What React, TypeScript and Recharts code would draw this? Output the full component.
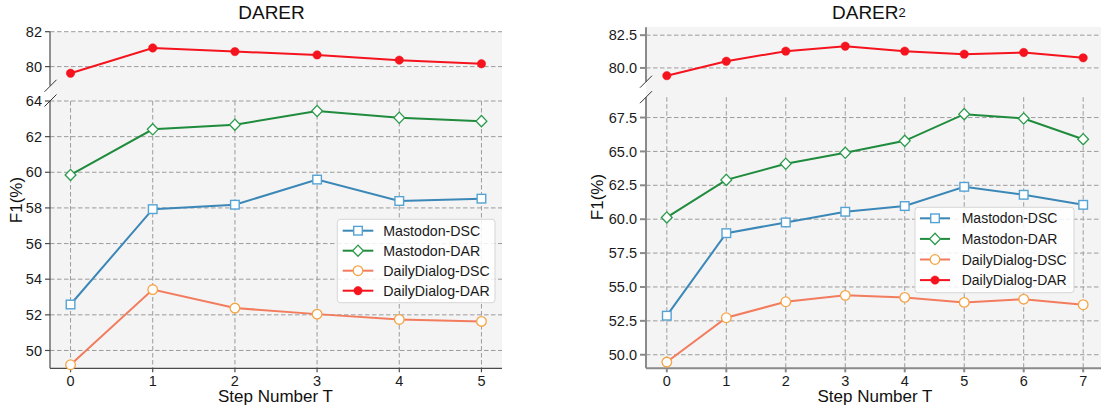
import React from "react";
import { LineChart, Line, XAxis, YAxis, CartesianGrid } from "recharts";

// DARER (left panel)
const darerSteps = [0, 1, 2, 3, 4, 5];
const darerMastodonDSC = [52.58, 57.93, 58.18, 59.59, 58.39, 58.52];
const darerMastodonDAR = [59.85, 62.41, 62.67, 63.44, 63.06, 62.87];
const darerDailyDSC = [49.2, 53.42, 52.38, 52.04, 51.74, 51.63];
const darerDailyDAR = [79.62, 81.07, 80.86, 80.67, 80.37, 80.16];
const darerTopTicks = [80, 82];
const darerBottomTicks = [50, 52, 54, 56, 58, 60, 62, 64];

// DARER2 (right panel)
const darer2Steps = [0, 1, 2, 3, 4, 5, 6, 7];
const darer2MastodonDSC = [52.88, 58.97, 59.76, 60.55, 60.97, 62.39, 61.8, 61.06];
const darer2MastodonDAR = [60.13, 62.9, 64.09, 64.9, 65.78, 67.75, 67.43, 65.9];
const darer2DailyDSC = [49.46, 52.73, 53.91, 54.38, 54.23, 53.86, 54.1, 53.69];
const darer2DailyDAR = [79.41, 80.51, 81.28, 81.66, 81.28, 81.05, 81.18, 80.77];
const darer2TopTicks = [80, 82.5];
const darer2BottomTicks = [50, 52.5, 55, 57.5, 60, 62.5, 65, 67.5];

const seriesNames = ["Mastodon-DSC", "Mastodon-DAR", "DailyDialog-DSC", "DailyDialog-DAR"];

const FONT = '"Liberation Sans", Arial, Helvetica, sans-serif';

const series = [
  { key: "mdsc", name: seriesNames[0], line: "#3b87b7", edge: "#55a3d4", fill: "#fff", shape: "square" },
  { key: "mdar", name: seriesNames[1], line: "#1f8b3c", edge: "#2b9a4b", fill: "#fff", shape: "diamond" },
  { key: "ddsc", name: seriesNames[2], line: "#f27c5d", edge: "#f5a445", fill: "#fff", shape: "circle" },
  { key: "ddar", name: seriesNames[3], line: "#f5131d", edge: "#f5131d", fill: "#f5131d", shape: "dot" },
];

const buildRows = (steps: number[], a: number[], b: number[], c: number[], d: number[]) =>
  steps.map((t, i) => ({ t, mdsc: a[i], mdar: b[i], ddsc: c[i], ddar: d[i] }));

const darerRows = buildRows(darerSteps, darerMastodonDSC, darerMastodonDAR, darerDailyDSC, darerDailyDAR);
const darer2Rows = buildRows(darer2Steps, darer2MastodonDSC, darer2MastodonDAR, darer2DailyDSC, darer2DailyDAR);

function marker(s: any, cx: number, cy: number, key: string) {
  if (cx == null || cy == null) return <g key={key} />;
  if (s.shape === "square")
    return <rect key={key} x={cx - 4.3} y={cy - 4.3} width={8.6} height={8.6} fill={s.fill} stroke={s.edge} strokeWidth={1.4} />;
  if (s.shape === "diamond")
    return (
      <polygon
        key={key}
        points={`${cx},${cy - 5.6} ${cx + 5.4},${cy} ${cx},${cy + 5.6} ${cx - 5.4},${cy}`}
        fill={s.fill}
        stroke={s.edge}
        strokeWidth={1.3}
      />
    );
  if (s.shape === "circle")
    return <circle key={key} cx={cx} cy={cy} r={4.8} fill={s.fill} stroke={s.edge} strokeWidth={1.3} />;
  return <circle key={key} cx={cx} cy={cy} r={4.2} fill={s.fill} stroke={s.edge} strokeWidth={0.5} />;
}

const H = 411;

function SubChart({ cfg, rows, keys, yDomain, yTicks, y0, y1, showX, fmt }: any) {
  const xh = showX ? 30 : 0;
  const axisStroke = { stroke: cfg.spine, strokeWidth: cfg.spineWidth };
  const tickText = { fill: "#1a1a1a", fontSize: 14.5, fontFamily: FONT };
  return (
    <div style={{ position: "absolute", left: 0, top: 0 }}>
      <LineChart
        width={cfg.chartWidth}
        height={H}
        data={rows}
        margin={{ top: y0, bottom: H - y1 - xh, left: 0, right: cfg.chartWidth - cfg.plotRight }}
      >
        <CartesianGrid stroke="#9c9c9c" strokeDasharray="4.5 2.5" strokeWidth={1} syncWithTicks={true} />
        <XAxis
          dataKey="t"
          type="number"
          domain={cfg.xDomain}
          ticks={cfg.xTicks}
          interval={0}
          height={xh}
          tick={showX ? tickText : false}
          tickLine={showX ? axisStroke : false}
          axisLine={showX ? axisStroke : false}
          tickSize={4}
          tickMargin={3}
        />
        <YAxis
          type="number"
          domain={yDomain}
          ticks={yTicks}
          interval={0}
          width={cfg.plotLeft}
          tick={tickText}
          tickFormatter={fmt}
          tickLine={axisStroke}
          axisLine={axisStroke}
          tickSize={cfg.tickSize}
          tickMargin={3}
        />
        {keys.map((s: any) => (
          <Line
            key={s.key}
            dataKey={s.key}
            stroke={s.line}
            strokeWidth={2}
            dot={(p: any) => marker(s, p.cx, p.cy, `${s.key}-${p.index}`)}
            activeDot={false}
            isAnimationActive={false}
          />
        ))}
      </LineChart>
    </div>
  );
}

function LegendBox({ lg }: any) {
  return (
    <g>
      <rect x={lg.x} y={lg.y} width={lg.w} height={lg.h} rx={3} fill="#ffffff" fillOpacity={0.85} stroke="#d6d6d6" strokeWidth={1} />
      {series.map((s, i) => {
        const cy = lg.rowY + i * lg.rowGap;
        return (
          <g key={s.key}>
            <line x1={lg.lineX0} x2={lg.lineX1} y1={cy} y2={cy} stroke={s.line} strokeWidth={2} />
            {marker(s, (lg.lineX0 + lg.lineX1) / 2, cy, `lg-${s.key}`)}
            <text x={lg.textX} y={cy + 5} fontSize={lg.fontSize} fontFamily={FONT} fill="#1a1a1a">
              {s.name}
            </text>
          </g>
        );
      })}
    </g>
  );
}

const leftCfg = {
  plotLeft: 50,
  plotRight: 502,
  chartWidth: 1101,
  xDomain: [-0.25, 5.25],
  xTicks: darerSteps,
  spine: "#4a4a4a",
  spineWidth: 1.2,
  tickSize: 5,
  top: { y0: 31.7, y1: 85.8, domain: [78.9, 82], ticks: darerTopTicks },
  bottom: { y0: 101, y1: 368.3, domain: [49, 64], ticks: darerBottomTicks },
};

const rightCfg = {
  plotLeft: 646,
  plotRight: 1104,
  chartWidth: 1112,
  xDomain: [-0.35, 7.35],
  xTicks: darer2Steps,
  spine: "#8a8a8a",
  spineWidth: 2,
  tickSize: 6,
  top: { y0: 27.3, y1: 81.7, domain: [78.95, 83.1], ticks: darer2TopTicks },
  bottom: { y0: 97.2, y1: 368.3, domain: [49, 69], ticks: darer2BottomTicks },
};

function Panel({ cfg, rows, fmt }: any) {
  return (
    <>
      <div
        style={{
          position: "absolute",
          left: cfg.plotLeft,
          top: cfg.top.y0,
          width: cfg.plotRight - cfg.plotLeft,
          height: cfg.bottom.y1 - cfg.top.y0,
          background: "#f4f4f4",
        }}
      />
      <SubChart cfg={cfg} rows={rows} keys={series.slice(3)} yDomain={cfg.top.domain} yTicks={cfg.top.ticks} y0={cfg.top.y0} y1={cfg.top.y1} showX={false} fmt={fmt} />
      <SubChart cfg={cfg} rows={rows} keys={series.slice(0, 3)} yDomain={cfg.bottom.domain} yTicks={cfg.bottom.ticks} y0={cfg.bottom.y0} y1={cfg.bottom.y1} showX={true} fmt={fmt} />
    </>
  );
}

function BreakMarks({ x, ya, yb, color }: any) {
  return (
    <g stroke={color} strokeWidth={1}>
      <line x1={x - 6} y1={ya + 6} x2={x + 6} y2={ya - 6} />
      <line x1={x - 6} y1={yb + 6} x2={x + 6} y2={yb - 6} />
    </g>
  );
}

export default function App() {
  return (
    <div style={{ position: "absolute", left: 0, top: 0, width: 1101, height: H, overflow: "hidden", background: "#fff" }}>
      <Panel cfg={leftCfg} rows={darerRows} fmt={(v: number) => String(v)} />
      <Panel cfg={rightCfg} rows={darer2Rows} fmt={(v: number) => v.toFixed(1)} />
      <svg width={1101} height={H} style={{ position: "absolute", left: 0, top: 0, pointerEvents: "none" }}>
        <text x={271.5} y={18.5} textAnchor="middle" fontSize={19} fontFamily={FONT} fill="#111">
          DARER
        </text>
        <text x={832} y={18.5} fontSize={19} fontFamily={FONT} fill="#111">
          DARER<tspan fontSize={13} dy={-2}>2</tspan>
        </text>
        <text x={275.5} y={401.5} textAnchor="middle" fontSize={17} fontFamily={FONT} fill="#111">
          Step Number T
        </text>
        <text x={875} y={401.5} textAnchor="middle" fontSize={17} fontFamily={FONT} fill="#111">
          Step Number T
        </text>
        <text transform="translate(22,200) rotate(-90)" textAnchor="middle" fontSize={17} fontFamily={FONT} fill="#111">
          F1(%)
        </text>
        <text transform="translate(602.5,197) rotate(-90)" textAnchor="middle" fontSize={17} fontFamily={FONT} fill="#111">
          F1(%)
        </text>
        <BreakMarks x={50.5} ya={85.8} yb={100.5} color="#333" />
        <BreakMarks x={646} ya={81.7} yb={97.2} color="#333" />
        <LegendBox lg={{ x: 337.3, y: 219.3, w: 157.7, h: 83.4, rowY: 230.7, rowGap: 20, lineX0: 342.7, lineX1: 373.3, textX: 383.3, fontSize: 14.2 }} />
        <LegendBox lg={{ x: 915, y: 207.3, w: 159, h: 85.4, rowY: 218.3, rowGap: 20.6, lineX0: 920, lineX1: 950, textX: 961.7, fontSize: 14 }} />
      </svg>
    </div>
  );
}
